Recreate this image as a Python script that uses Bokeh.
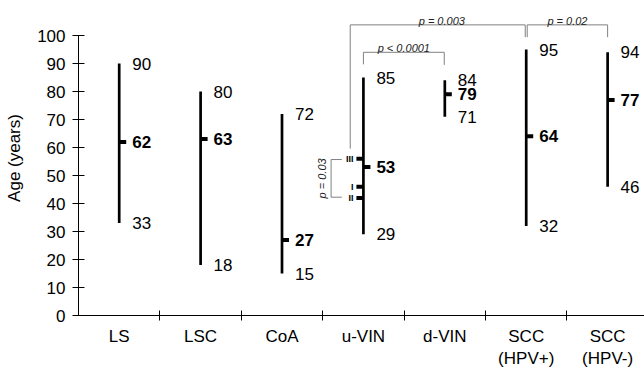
from bokeh.plotting import figure
from bokeh.models import Range1d, FixedTicker, ColumnDataSource
from bokeh.core.properties import value
from bokeh.embed import file_html
from bokeh.resources import INLINE

# ---------------- data ----------------
categories = ["LS", "LSC", "CoA", "u-VIN", "d-VIN", "SCC\n(HPV+)", "SCC\n(HPV-)"]
age_min = [33, 18, 15, 29, 71, 32, 46]
age_max = [90, 80, 72, 85, 84, 95, 94]
age_median = [62, 63, 27, 53, 79, 64, 77]
y_ticks = [0, 10, 20, 30, 40, 50, 60, 70, 80, 90, 100]

# u-VIN sub-groups (marks left of the u-VIN bar)
uvin_sub_ages = [56, 46, 42]
uvin_sub_labels = ["III", "I", "II"]

# comparisons: left category, right category, p text, bracket top, left leg end, right leg end
comparisons = [
    ("u-VIN", "SCC\n(HPV+)", "p = 0.003", 103.8, 59.6, 99.4),
    ("SCC\n(HPV+)", "SCC\n(HPV-)", "p = 0.02", 103.8, 99.4, 99.4),
    ("u-VIN", "d-VIN", "p < 0.0001", 94.0, 89.7, 89.5),
]
sub_comparison_text = "p = 0.03"

# ---------------- style ----------------
FONT = value("Liberation Sans")
GREY = "#808080"
MED_TICK = 0.086          # length of median / sub-group ticks (x units)
xs = [i + 1 for i in range(len(categories))]
pos = {c: x for c, x in zip(categories, xs)}

p = figure(width=644, height=371, output_backend="svg", toolbar_location=None,
           x_range=Range1d(0.5, 7.453), y_range=Range1d(0, 112.5),
           min_border_left=78, min_border_right=0, min_border_top=0,
           min_border_bottom=56)
p.outline_line_color = None
p.xgrid.visible = False
p.ygrid.visible = False
p.background_fill_color = "white"

# y axis
ya = p.yaxis[0]
ya.ticker = FixedTicker(ticks=y_ticks)
ya.bounds = (0, 100)
ya.major_tick_in = 6
ya.major_tick_out = 6
ya.minor_tick_in = 0
ya.minor_tick_out = 0
ya.major_label_standoff = 7
ya.major_label_text_font = "Liberation Sans"
ya.major_label_text_font_size = "17px"
ya.major_label_text_color = "black"
ya.axis_label = "Age (years)"
ya.axis_label_text_font = "Liberation Sans"
ya.axis_label_text_font_size = "17px"
ya.axis_label_text_font_style = "normal"
ya.axis_label_text_color = "black"
ya.axis_label_standoff = 10
ya.axis_line_color = "black"
ya.major_tick_line_color = "black"

# x axis: labels at category centres, ticks at the boundaries
xa = p.xaxis[0]
xa.ticker = FixedTicker(ticks=xs, minor_ticks=[x + 0.5 for x in xs])
xa.major_tick_in = 0
xa.major_tick_out = 0
xa.minor_tick_in = 5
xa.minor_tick_out = 5
xa.minor_tick_line_color = "black"
xa.axis_line_color = "black"
xa.major_label_overrides = {x: c for x, c in zip(xs, categories)}
xa.major_label_standoff = 6
xa.major_label_text_font = "Liberation Sans"
xa.major_label_text_font_size = "17px"
xa.major_label_text_line_height = 1.2
xa.major_label_text_color = "black"

# range bars
src = ColumnDataSource(dict(x=xs, lo=age_min, hi=age_max, med=age_median,
                            xm=[x + MED_TICK for x in xs],
                            lo_t=[str(v) for v in age_min],
                            hi_t=[str(v) for v in age_max],
                            med_t=[str(v) for v in age_median]))
p.segment(x0="x", y0="lo", x1="x", y1="hi", source=src, line_width=2.7, line_color="black")
p.segment(x0="x", y0="med", x1="xm", y1="med", source=src, line_width=4, line_color="black",
          line_cap="butt")
for ycol, tcol, style in (("hi", "hi_t", "normal"), ("lo", "lo_t", "normal"), ("med", "med_t", "bold")):
    p.text(x="x", y=ycol, text=tcol, source=src, x_offset=13, text_align="left",
           text_baseline="middle", text_font=FONT, text_font_size="17px",
           text_font_style=style, text_color="black")

# u-VIN sub-groups
ux = pos["u-VIN"]
sub = ColumnDataSource(dict(x0=[ux - MED_TICK] * 3, x1=[ux] * 3, y=uvin_sub_ages,
                            t=uvin_sub_labels))
p.segment(x0="x0", y0="y", x1="x1", y1="y", source=sub, line_width=4, line_color="black",
          line_cap="butt")
p.text(x="x0", y="y", text="t", source=sub, x_offset=-3, text_align="right",
       text_baseline="middle", text_font=FONT, text_font_size="9px",
       text_font_style="bold", text_color="black")

# sub-group comparison bracket (III vs II)
bx = ux - 0.397
arm = ux - 0.265
y_hi, y_lo = uvin_sub_ages[0] - 0.3, uvin_sub_ages[2] + 0.25
p.multi_line(xs=[[arm, bx, bx, arm]], ys=[[y_hi, y_hi, y_lo, y_lo]], line_color=GREY, line_width=1)
p.text(x=[ux - 0.511], y=[(y_hi + y_lo) / 2], text=[sub_comparison_text], angle=1.5708,
       text_align="center", text_baseline="middle", text_font=FONT, text_font_size="11px",
       text_font_style="italic", text_color="#222222")

# comparison brackets
leg_shift = {("u-VIN", 0): -0.162, ("SCC\n(HPV+)", 1): -0.012, ("SCC\n(HPV+)", 0): 0.012,
             ("SCC\n(HPV-)", 1): 0.0, ("d-VIN", 1): -0.007}
bxs, bys, tx, ty, tt = [], [], [], [], []
for a, b, txt, top, lend, rend in comparisons:
    xl = pos[a] if b == "d-VIN" else pos[a] + leg_shift[(a, 0)]
    xr = pos[b] + leg_shift[(b, 1)]
    bxs.append([xl, xl, xr, xr])
    bys.append([lend, top, top, rend])
    tx.append((xl + xr) / 2 + (0.05 if b == "SCC\n(HPV+)" else 0.0))
    ty.append(top)
    tt.append(txt)
p.multi_line(xs=bxs, ys=bys, line_color=GREY, line_width=1)
p.text(x=tx, y=ty, text=tt, y_offset=-4, text_align="center", text_baseline="alphabetic",
       text_font=FONT, text_font_size="11px", text_font_style="italic", text_color="#222222")

open("out.html", "w").write(file_html(p, INLINE))
